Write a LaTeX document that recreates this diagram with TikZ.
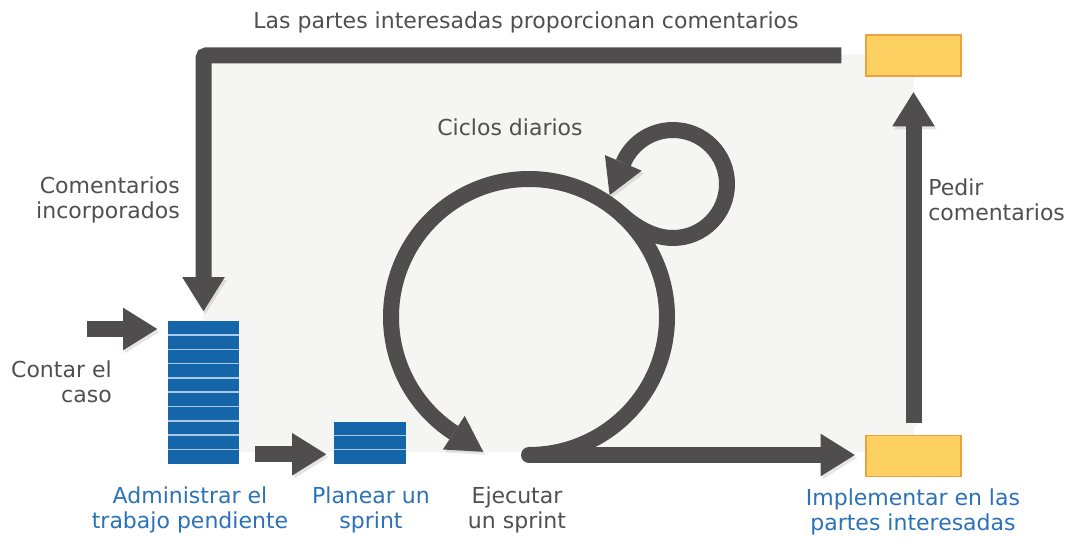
\documentclass[tikz,border=0pt]{standalone}
\usepackage{fontspec}
\setmainfont{DejaVu Sans}
\usetikzlibrary{arrows.meta,calc}
\definecolor{linegray}{HTML}{4F4D4E}
\definecolor{barblue}{HTML}{1565A9}
\definecolor{sepblue}{HTML}{A9C9E6}
\definecolor{txtgray}{HTML}{505050}
\definecolor{txtblue}{HTML}{2C72B8}
\definecolor{boxyellow}{HTML}{FDD062}
\definecolor{boxorange}{HTML}{EFA040}
\definecolor{bggray}{HTML}{F5F5F4}
\begin{document}
\begin{tikzpicture}[x=0.75pt,y=-0.75pt,
  lbl/.style={inner sep=0pt, font=\fontsize{16.5pt}{18.75pt}\selectfont, text=txtgray},
  bluelbl/.style={lbl, text=txtblue},
  shadowed/.style={preaction={draw=black, draw opacity=0.10, fill opacity=0.10, transform canvas={shift={(1.5pt,-2.2pt)}}}},
  conn/.style={shadowed, draw=linegray, line width=12pt, -{Triangle[width=30pt,length=26pt]}},
  plainline/.style={shadowed, draw=linegray, line width=12pt},
  tipfill/.style={fill=linegray, preaction={fill=black, fill opacity=0.10, transform canvas={shift={(1.5pt,-2.2pt)}}}},
  stack/.style={fill=barblue, inner sep=0pt},
  sepline/.style={draw=sepblue, line width=1.1pt},
  ybox/.style={fill=boxyellow, draw=boxorange, line width=1.1pt, inner sep=0pt, minimum width=71.25pt, minimum height=30.75pt}
]
\useasboundingbox (0,0) rectangle (1068,538);
\fill[white] (0,0) rectangle (1068,538);
\fill[bggray] (203,54) rectangle (914,452);

% stacks
\node[stack, minimum width=53.25pt, minimum height=107.25pt] (backlog) at (203.5,392.5) {};
\foreach \i in {1,...,9}
  \draw[sepline] ([yshift=-\i*10.725pt]backlog.north west) -- ([yshift=-\i*10.725pt]backlog.north east);
\node[stack, minimum width=54pt, minimum height=31.5pt] (sprint) at (370,443) {};
\foreach \i in {1,2}
  \draw[sepline] ([yshift=-\i*10.5pt]sprint.north west) -- ([yshift=-\i*10.5pt]sprint.north east);

% yellow boxes
\node[ybox] (fbbox) at (913.5,55.5) {};
\node[ybox] (depbox) at (913.5,456) {};

% coordinates
\coordinate (contarStart) at (87,329);
\coordinate (exec) at (529,455);
\coordinate (bigc) at (529,317);

% connectors
\draw[conn, shorten <=18pt, shorten >=6.75pt, rounded corners=2pt] (fbbox.west) -| (backlog.north);
\draw[conn] (contarStart) -- ($(backlog.west |- contarStart)+(-10,0)$);
\draw[conn, shorten >=5.25pt] ($(backlog.south east)+(16,-10)$) -- ($(sprint.south west)+(0,-10)$);
\draw[conn, shorten >=7.5pt] (exec) -- (exec -| depbox.west);
\draw[conn, shorten <=9pt, shorten >=11.25pt] (depbox.north) -- (fbbox.south);

% big daily circle
\draw[plainline] (exec) arc[start angle=90, end angle=-237, radius=138];
\fill[tipfill] (442.9,449.5) -- (483.2,451.8) -- (464.7,415.9) -- cycle;
% small loop
\draw[plainline] (621.3,214.4) .. controls (634.7,226.4) and (653,238) .. (673,238)
  arc[start angle=90, end angle=-157, radius=54];
\fill[tipfill] (604.9,155.1) -- (609.6,195.1) -- (641.7,170.7) -- cycle;
\fill[linegray] (exec) circle[radius=8];

% labels
\node[lbl] (toplbl) at (526,22) {Las partes interesadas proporcionan comentarios};
\node[lbl, align=right, anchor=east] (inclbl) at (180,200) {Comentarios\\incorporados};
\node[lbl, align=right, anchor=east] (contarlbl) at (112,382) {Contar el\\caso};
\node[lbl] (ciclbl) at (510,127) {Ciclos diarios};
\node[lbl, align=left, anchor=west] (pedirlbl) at (928,200) {Pedir\\comentarios};
\node[bluelbl, align=center] (admlbl) at (190,510) {Administrar el\\trabajo pendiente};
\node[bluelbl, align=center] (planlbl) at (371,510) {Planear un\\sprint};
\node[lbl, align=center] (ejelbl) at (517,510) {Ejecutar\\un sprint};
\node[bluelbl, align=center] (implbl) at (913,512) {Implementar en las\\partes interesadas};
\end{tikzpicture}
\end{document}
